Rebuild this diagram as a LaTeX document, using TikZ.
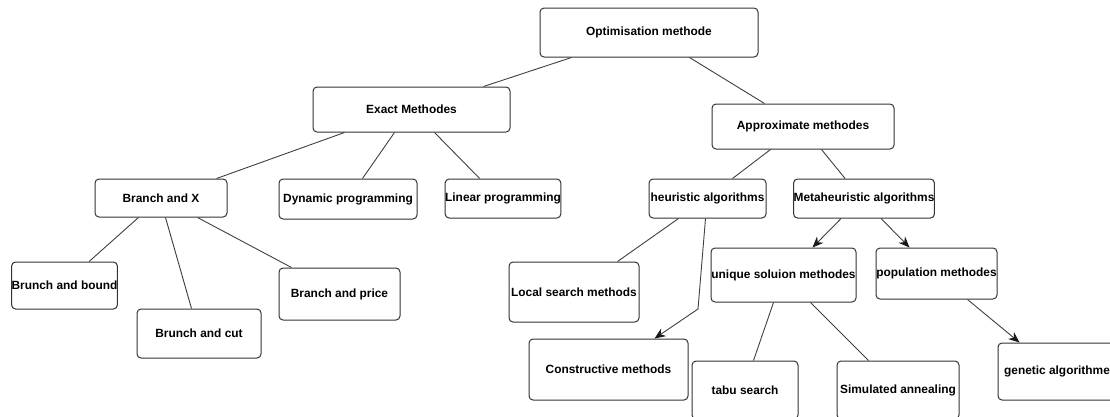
\documentclass[tikz,border=0pt]{standalone}
\usepackage{fontspec}
\setmainfont{Liberation Sans}
\usepackage{tikz}
\usetikzlibrary{arrows.meta}

\tikzset{
  methodbox/.style={draw=black!80, line width=1pt, rounded corners=4pt, fill=white,
    inner sep=0pt, align=center, font=\fontsize{11.9}{13}\selectfont\bfseries},
  link/.style={draw=black!75, line width=0.9pt},
  arrowlink/.style={link, -{Stealth[length=11pt,width=9pt,color=black!90]}}
}

\begin{document}
\begin{tikzpicture}[x=1pt,y=-1pt]
\clip (0,0) rectangle (1110,416);
\fill[white] (0,0) rectangle (1110,416);

\node[methodbox, minimum width=218, minimum height=49] (opt) at (649,32.5) {Optimisation methode};
\node[methodbox, minimum width=197, minimum height=45] (exact) at (411.5,109.5) {Exact Methodes};
\node[methodbox, minimum width=182, minimum height=45] (approx) at (803,126.5) {Approximate methodes};

\node[methodbox, minimum width=132, minimum height=38] (branchx) at (161,198) {Branch and X};
\node[methodbox, minimum width=138, minimum height=40] (dynprog) at (348,199) {Dynamic programming};
\node[methodbox, minimum width=112, minimum height=39] (linprog) at (503,198.5) {Linear programming};
\node[methodbox, minimum width=117, minimum height=39] (heur) at (707.5,198.5) {heuristic algorithms};
\node[methodbox, minimum width=138, minimum height=39] (meta) at (864,198.5) {Metaheuristic algorithms};

\node[methodbox, minimum width=105, minimum height=47] (bound) at (64.5,285.5) {Brunch and bound};
\node[methodbox, minimum width=124, minimum height=49] (cut) at (199,333.5) {Brunch and cut};
\node[methodbox, minimum width=121, minimum height=52] (price) at (339.5,294) {Branch and price};

\node[methodbox, minimum width=130, minimum height=60] (local) at (574,292) {Local search methods};
\node[methodbox, minimum width=159, minimum height=61] (constr) at (608.5,369.5) {Constructive methods};
\node[methodbox, minimum width=145, minimum height=54] (unique) at (783.5,275) {unique soluion methodes};
\node[methodbox, minimum width=121, minimum height=51] (pop) at (936.5,273.5) {population methodes};

\node[methodbox, minimum width=106, minimum height=58] (tabu) at (745,390) {tabu search};
\node[methodbox, minimum width=122, minimum height=58] (simul) at (898,390) {Simulated annealing};
\node[methodbox, minimum width=118, minimum height=57] (genetic) at (1057,371.5) {genetic algorithme};

\draw[link] ([xshift=171pt]exact.north west) -- ([xshift=32pt]opt.south west);
\draw[link] ([xshift=150pt]opt.south west) -- ([xshift=53pt]approx.north west);

\draw[link] ([xshift=32pt]exact.south west) -- ([xshift=122pt]branchx.north west);
\draw[link] ([xshift=82pt]exact.south west) -- ([xshift=84pt]dynprog.north west);
\draw[link] ([xshift=122pt]exact.south west) -- ([xshift=35pt]linprog.north west);

\draw[link] ([xshift=44pt]branchx.south west) -- ([xshift=78pt]bound.north west);
\draw[link] ([xshift=71pt]branchx.south west) -- ([xshift=55pt]cut.north west);
\draw[link] ([xshift=103pt]branchx.south west) -- ([xshift=13pt]price.north west);

\draw[link] ([xshift=59pt]approx.south west) -- ([xshift=84pt]heur.north west);
\draw[link] ([xshift=110pt]approx.south west) -- ([xshift=52pt]meta.north west);

\draw[link] ([xshift=30pt]heur.south west) -- ([xshift=109pt]local.north west);
\coordinate (bend) at (698,309);
\draw[arrowlink] ([xshift=57pt]heur.south west) -- (bend) -- ([xshift=126pt]constr.north west);

\draw[arrowlink] ([xshift=48pt]meta.south west) -- ([xshift=102pt]unique.north west);
\draw[arrowlink] ([xshift=88pt]meta.south west) -- ([xshift=34pt]pop.north west);

\draw[link] ([xshift=63pt]unique.south west) -- ([xshift=62pt]tabu.north west);
\draw[link] ([xshift=100pt]unique.south west) -- ([xshift=32pt]simul.north west);
\draw[arrowlink] ([xshift=92pt]pop.south west) -- ([xshift=22pt]genetic.north west);
\end{tikzpicture}
\end{document}
